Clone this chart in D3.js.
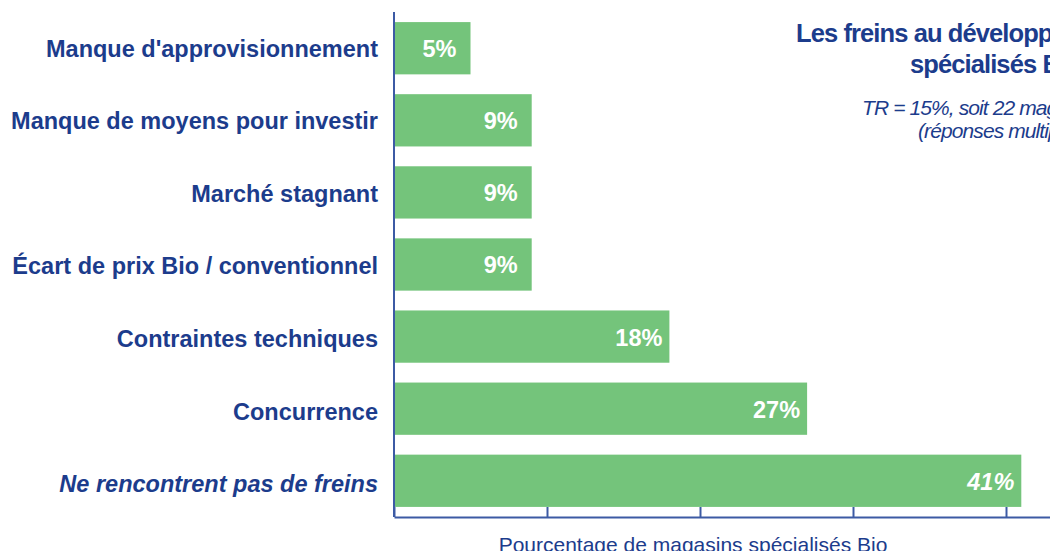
<!DOCTYPE html>
<html>
<head>
<meta charset="utf-8">
<script src="https://cdn.jsdelivr.net/npm/d3@7"></script>
<style>
  body { margin: 0; background: #fff; overflow: hidden; }
  text { font-family: Arial, "Liberation Sans", sans-serif; }
</style>
</head>
<body>
<script>
// donnees
var categories = [
    "Manque d'approvisionnement",
    "Manque de moyens pour investir",
    "Marché stagnant",
    "Écart de prix Bio / conventionnel",
    "Contraintes techniques",
    "Concurrence",
    "Ne rencontrent pas de freins"
];
var valeurs = [5, 9, 9, 9, 18, 27, 41];
var enItalique = [false, false, false, false, false, false, true];
var graduations = [0, 10, 20, 30, 40, 50];

var titre = ["Les freins au développement des magasins", "spécialisés Bio"];
var sousTitre = ["TR = 15%, soit 22 magasins", "(réponses multiples)"];
var titreAxe = "Pourcentage de magasins spécialisés Bio";

var width = 1050;
var height = 551;

var bleu = "#1c3c8c";
var bleuAxe = "#3c5aa4";
var vert = "#74c47b";

var margen = { arriba: 12, abajo: 34, izquierda: 394 };

var escalaX = d3.scaleLinear()
    .domain([0, 50])
    .range([margen.izquierda, margen.izquierda + 765]);

var escalaY = d3.scaleBand()
    .domain(categories)
    .range([margen.arriba, height - margen.abajo])
    .paddingInner(0.275)
    .paddingOuter(0.14);

var svg = d3.select("body")
    .append("svg")
    .attr("width", width)
    .attr("height", height);

var datos = categories.map(function (c, i) {
    return { categorie: c, valeur: valeurs[i], italique: enItalique[i] };
});

// barres
svg.selectAll("rect.barre")
    .data(datos)
    .join("rect")
    .attr("class", "barre")
    .attr("x", escalaX(0))
    .attr("y", function (d) { return escalaY(d.categorie); })
    .attr("width", function (d) { return escalaX(d.valeur) - escalaX(0); })
    .attr("height", escalaY.bandwidth())
    .attr("fill", vert);

// valeurs dans les barres
svg.selectAll("text.valeur")
    .data(datos)
    .join("text")
    .attr("class", "valeur")
    .attr("x", function (d) { return escalaX(d.valeur) - (d.valeur < 10 ? 14 : 7); })
    .attr("y", function (d) { return escalaY(d.categorie) + escalaY.bandwidth() / 2; })
    .attr("dy", "0.38em")
    .attr("text-anchor", "end")
    .attr("fill", "#fff")
    .style("font-size", "23.5px")
    .style("font-weight", "bold")
    .style("font-style", function (d) { return d.italique ? "italic" : "normal"; })
    .text(function (d) { return d.valeur + "%"; });

// libelles des categories
svg.selectAll("text.libelle")
    .data(datos)
    .join("text")
    .attr("class", "libelle")
    .attr("x", margen.izquierda - 16)
    .attr("y", function (d, i) { return escalaY(d.categorie) + escalaY.bandwidth() / 2 + i * 0.5; })
    .attr("dy", "0.36em")
    .attr("text-anchor", "end")
    .attr("fill", bleu)
    .style("font-size", "23.5px")
    .style("font-weight", "bold")
    .style("font-style", function (d) { return d.italique ? "italic" : "normal"; })
    .text(function (d) { return d.categorie; });

// axe horizontal, graduations vers le haut
var ejeX = d3.axisBottom(escalaX)
    .tickValues(graduations)
    .tickSize(-10)
    .tickSizeOuter(0)
    .tickFormat("");

var gEjeX = svg.append("g")
    .attr("transform", "translate(0," + (height - margen.abajo) + ")")
    .call(ejeX);
gEjeX.selectAll("path, line")
    .attr("stroke", bleuAxe)
    .attr("stroke-width", 2);

// axe vertical
svg.append("line")
    .attr("x1", escalaX(0))
    .attr("x2", escalaX(0))
    .attr("y1", margen.arriba)
    .attr("y2", height - margen.abajo)
    .attr("stroke", bleuAxe)
    .attr("stroke-width", 2);

// titre de l'axe
svg.append("text")
    .attr("x", 693)
    .attr("y", 552)
    .attr("text-anchor", "middle")
    .attr("fill", bleu)
    .style("font-size", "21px")
    .text(titreAxe);

// titre (deborde a droite comme dans l'original)
var debutsTitre = [796, 910];
svg.selectAll("text.titre")
    .data(titre)
    .join("text")
    .attr("class", "titre")
    .attr("x", function (d, i) { return debutsTitre[i]; })
    .attr("y", function (d, i) { return 42 + i * 31; })
    .attr("fill", bleu)
    .style("font-size", "25.5px")
    .style("font-weight", "bold")
    .style("letter-spacing", "-0.9px")
    .text(function (d) { return d; });

var debutsSousTitre = [862, 918];
svg.selectAll("text.soustitre")
    .data(sousTitre)
    .join("text")
    .attr("class", "soustitre")
    .attr("x", function (d, i) { return debutsSousTitre[i]; })
    .attr("y", function (d, i) { return 115 + i * 23; })
    .attr("fill", bleu)
    .style("font-size", "21px")
    .style("font-style", "italic")
    .style("letter-spacing", "-0.9px")
    .text(function (d) { return d; });
</script>
</body>
</html>
